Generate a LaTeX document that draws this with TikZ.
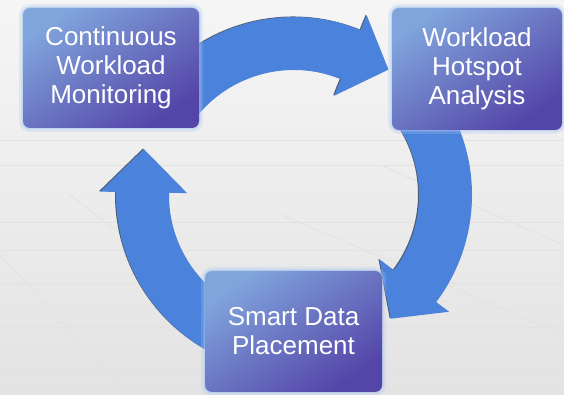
\documentclass[tikz,border=0pt]{standalone}
\usepackage{fontspec}
\setmainfont{Liberation Sans}
\definecolor{ringblue}{HTML}{4A82DC}
\definecolor{ringedge}{HTML}{2A3448}
\definecolor{boxtop}{HTML}{80A4DC}
\definecolor{boxbot}{HTML}{5445A8}
\definecolor{glowblue}{HTML}{A9C6F2}
\definecolor{paper}{HTML}{EFEFEF}
\definecolor{gridline}{HTML}{E2E2E2}

\tikzset{
  stagebox/.style={rectangle, rounded corners=7pt, text=white, align=center,
    font=\fontsize{26}{29}\selectfont,
    top color=boxtop, bottom color=boxbot, shading angle=35,
    preaction={draw=glowblue, line width=8pt, opacity=0.25},
    preaction={draw=glowblue, line width=3pt, opacity=0.5}},
}

% ring segment: tail angle, head base angle, tip angle
\newcommand{\cyclearrow}[3]{%
  (#1:178pt) arc[start angle=#1, end angle=#2, radius=178pt]
  -- (#2:194pt) -- (#3:157pt) -- (#2:107pt) -- (#2:125pt)
  arc[start angle=#2, end angle=#1, radius=125pt] -- cycle}

\begin{document}
\begin{tikzpicture}[x=1pt,y=1pt]
\useasboundingbox (0,0) rectangle (564,395);
\fill[top color=paper!60!white, bottom color=paper!95!black] (0,0) rectangle (564,395);

% faint floor lines
\foreach \y in {255,230,173,145,112,68,23}
  \draw[gridline, line width=0.8pt] (0,\y) -- (564,\y);
\draw[gridline, line width=0.8pt] (0,140) -- (130,0);
\draw[gridline, line width=0.8pt] (70,200) -- (330,0);
\draw[gridline, line width=0.8pt] (282,180) -- (564,60);
\draw[gridline, line width=0.8pt] (380,230) -- (564,150);

\coordinate (hub) at (294,200);

\begin{scope}[shift={(hub)}]
\fill[ringedge, opacity=0.8, xshift=-1pt, yshift=0.5pt] \cyclearrow{145}{68}{53};
\fill[ringedge, opacity=0.8, xshift=-1pt, yshift=0.5pt] \cyclearrow{35}{-37}{-52};
\fill[ringedge, opacity=0.8, xshift=-1pt, yshift=0.5pt] \cyclearrow{255}{179}{163};
\fill[ringblue] \cyclearrow{145}{68}{53};
\fill[ringblue] \cyclearrow{35}{-37}{-52};
\fill[ringblue] \cyclearrow{255}{179}{163};
\end{scope}

\path (111,327) node[stagebox, minimum width=176pt, minimum height=120pt] (mon)
  {Continuous\\Workload\\Monitoring};
\path (477,326) node[stagebox, minimum width=170pt, minimum height=122pt] (hot)
  {Workload\\Hotspot\\Analysis};
\path (293.5,63.5) node[stagebox, minimum width=177pt, minimum height=121pt] (place)
  {Smart Data\\Placement};
\end{tikzpicture}
\end{document}
